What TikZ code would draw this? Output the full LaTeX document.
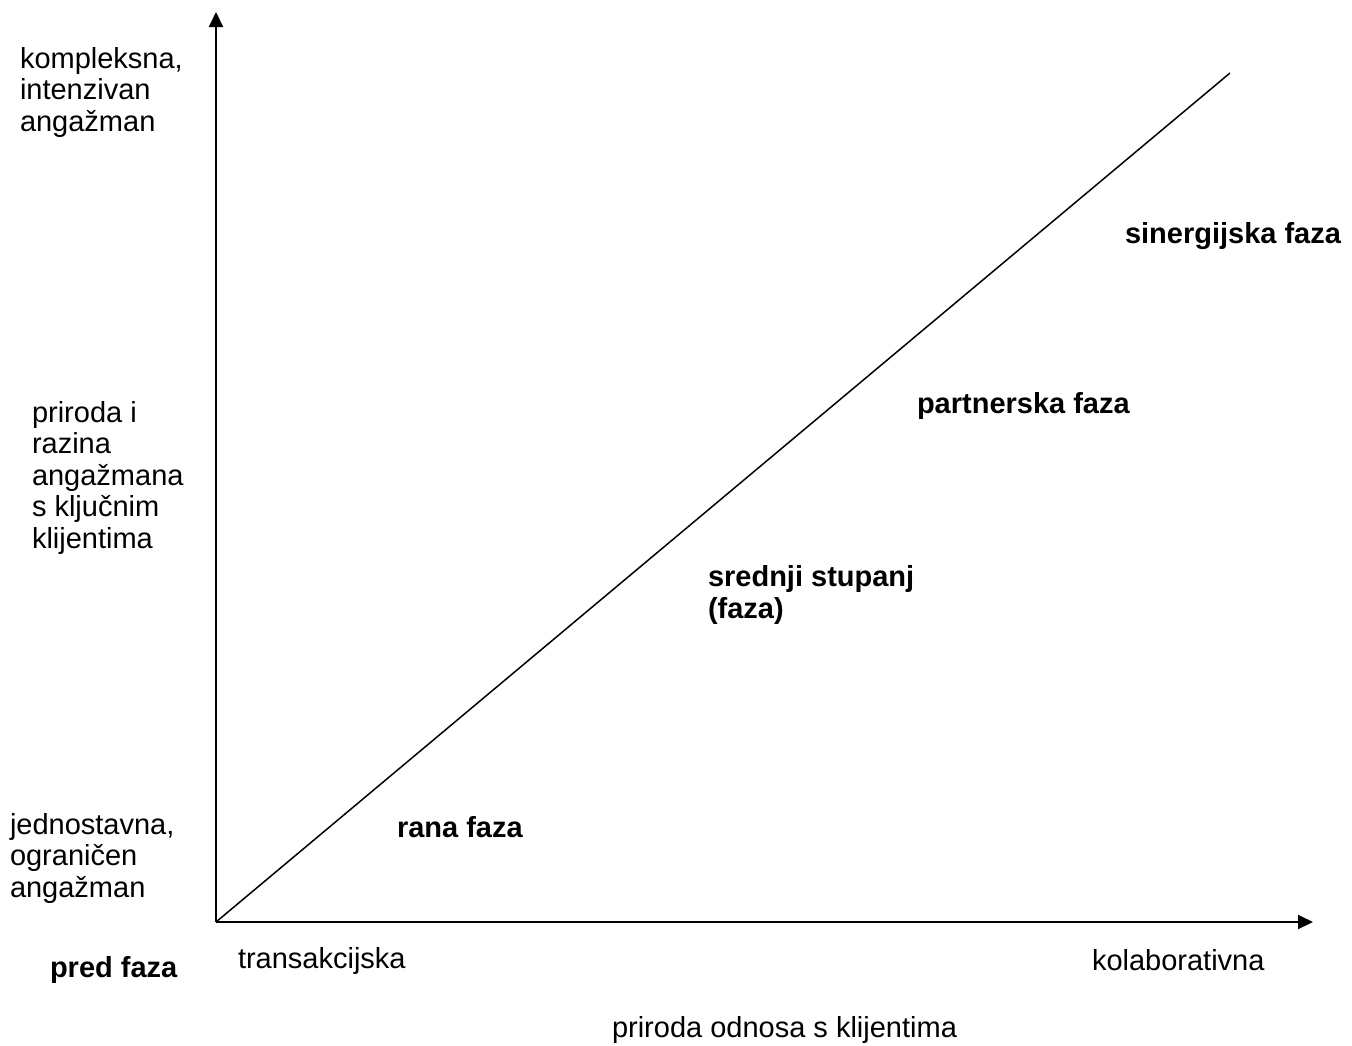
\documentclass[tikz,border=0pt]{standalone}
\usepackage{fontspec}
\setmainfont{Liberation Sans}
\usetikzlibrary{arrows.meta}
\tikzset{
  lbl/.style={inner sep=0pt, outer sep=0pt, anchor=base west, align=left,
    font=\fontsize{29}{31.5}\selectfont},
  blbl/.style={lbl, font=\fontsize{29}{31.5}\selectfont\bfseries},
  axis/.style={line width=2pt, -{Triangle[length=15pt,width=14pt]}},
  diag/.style={line width=1.5pt}
}
\begin{document}
\begin{tikzpicture}[x=1pt,y=-1pt]
\useasboundingbox (0,0) rectangle (1352,1045);
\coordinate (O) at (216,922);
\coordinate (ytip) at (216,12);
\coordinate (xtip) at (1313,922);
\coordinate (dend) at (1230,73);
\draw[axis] (O) -- (ytip);
\draw[axis] (O) -- (xtip);
\draw[diag] (O) -- (dend);
% multi-line nodes: base anchor is on the last line's baseline
\node[lbl] (ytop) at (20,131) {kompleksna,\\intenzivan\\angažman};
\node[lbl] (ymid) at (32,548) {priroda i\\razina\\angažmana\\s ključnim\\klijentima};
\node[lbl] (ybot) at (10,897) {jednostavna,\\ograničen\\angažman};
\node[blbl] (pred) at (50,977) {pred faza};
\node[lbl] (trans) at (238,968) {transakcijska};
\node[lbl] (kolab) at (1092,970) {kolaborativna};
\node[lbl] (xlab) at (612,1037) {priroda odnosa s klijentima};
\node[blbl] (rana) at (397,837) {rana faza};
\node[blbl] (sred) at (708,618) {srednji stupanj\\(faza)};
\node[blbl] (part) at (917,413) {partnerska faza};
\node[blbl] (sin) at (1125,243) {sinergijska faza};
\end{tikzpicture}
\end{document}
